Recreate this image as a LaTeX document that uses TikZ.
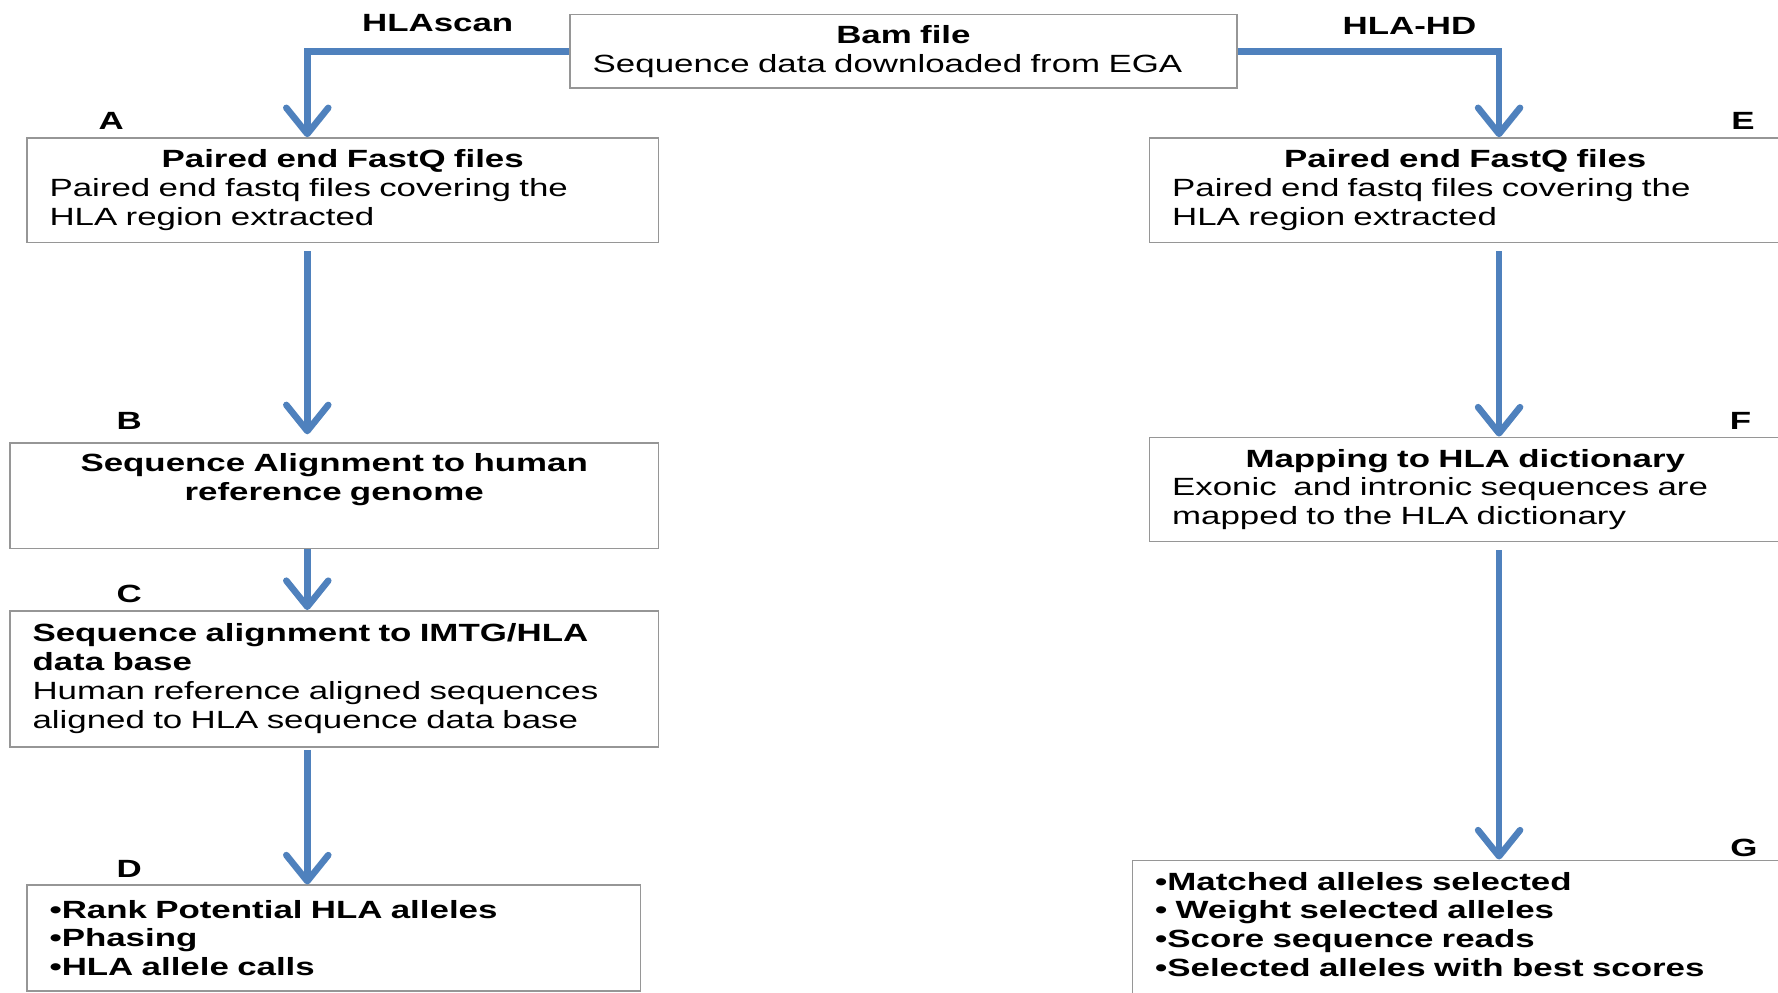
\documentclass[tikz,border=0pt]{standalone}
\usepackage{fontspec}
\setmainfont[FakeStretch=1.4]{Liberation Sans}
\usetikzlibrary{arrows.meta, positioning}
\definecolor{flowblue}{RGB}{79,129,189}
\definecolor{boxgray}{RGB}{150,150,150}

\begin{document}
\begin{tikzpicture}[
  every node/.style={font=\fontsize{12.5}{14.5}\selectfont},
  filebox/.style={rectangle, draw=boxgray, line width=0.8pt, anchor=north west,
                  inner xsep=0.4cm, align=left},
  tag/.style={font=\fontsize{12.5}{14.5}\selectfont\bfseries},
  flow/.style={-{Straight Barb[length=0.46cm, width=0.74cm, round]},
               line width=3.3pt, flowblue}
]
  \clip (0,0) rectangle (31.36,-17.5);

  % Input file (top middle)
  \node[filebox, text width=10.96cm, minimum height=1.3cm] (bam) at (10.04,-0.24)
    {{\centering\bfseries Bam file\par}Sequence data downloaded from EGA};

  % HLAscan branch (left column)
  \node[filebox, text width=10.34cm, minimum height=1.84cm] (A) at (0.46,-2.42)
    {{\centering\bfseries Paired end FastQ files\par}Paired end fastq files covering the\\HLA region extracted};

  \node[filebox, text width=10.64cm, minimum height=1.86cm] (B) at (0.16,-7.8)
    {{\centering\bfseries Sequence Alignment to human\\reference genome\par}\strut};

  \node[filebox, text width=10.64cm, minimum height=2.4cm] (C) at (0.16,-10.76)
    {{\bfseries Sequence alignment to IMTG/HLA\\data base\par}Human reference aligned sequences\\aligned to HLA sequence data base};

  \node[filebox, text width=10.02cm, minimum height=1.86cm] (D) at (0.46,-15.6)
    {\bfseries •Rank Potential HLA alleles\\•Phasing\\•HLA allele calls};

  % HLA-HD branch (right column)
  \node[filebox, text width=10.34cm, minimum height=1.84cm] (E) at (20.26,-2.42)
    {{\centering\bfseries Paired end FastQ files\par}Paired end fastq files covering the\\HLA region extracted};

  \node[filebox, text width=10.34cm, minimum height=1.84cm] (F) at (20.26,-7.7)
    {{\centering\bfseries Mapping to HLA dictionary\par}Exonic\ \ and intronic sequences are\\mapped to the HLA dictionary};

  \node[filebox, text width=10.8cm, minimum height=2.92cm] (G) at (19.96,-15.16)
    {\bfseries •Matched alleles selected\\• Weight selected alleles\\•Score sequence reads\\•Selected alleles with best scores\\\strut};

  % Tool names and step letters
  \node[tag] (hlascan) at (7.72,-0.4) {HLAscan};
  \node[tag] (hlahd) at (24.86,-0.46) {HLA-HD};
  \node[tag] (tagA) at (1.96,-2.14) {A};
  \node[tag] (tagB) at (2.28,-7.42) {B};
  \node[tag] (tagC) at (2.28,-10.48) {C};
  \node[tag] (tagD) at (2.28,-15.32) {D};
  \node[tag] (tagE) at (30.74,-2.14) {E};
  \node[tag] (tagF) at (30.70,-7.42) {F};
  \node[tag] (tagG) at (30.76,-14.96) {G};

  % Arrows
  \coordinate (leftx) at (5.42,0);
  \coordinate (rightx) at (26.44,0);
  \draw[flow] (bam.west) -| (leftx |- A.north);
  \draw[flow] (bam.east) -| (rightx |- E.north);
  \draw[flow, shorten <=0.14cm, shorten >=0.14cm] (leftx |- A.south) -- (leftx |- B.north);
  \draw[flow] (leftx |- B.south) -- (leftx |- C.north);
  \draw[flow, shorten <=0.04cm] (leftx |- C.south) -- (leftx |- D.north);
  \draw[flow, shorten <=0.14cm] (rightx |- E.south) -- (rightx |- F.north);
  \draw[flow, shorten <=0.14cm] (rightx |- F.south) -- (rightx |- G.north);
\end{tikzpicture}
\end{document}
